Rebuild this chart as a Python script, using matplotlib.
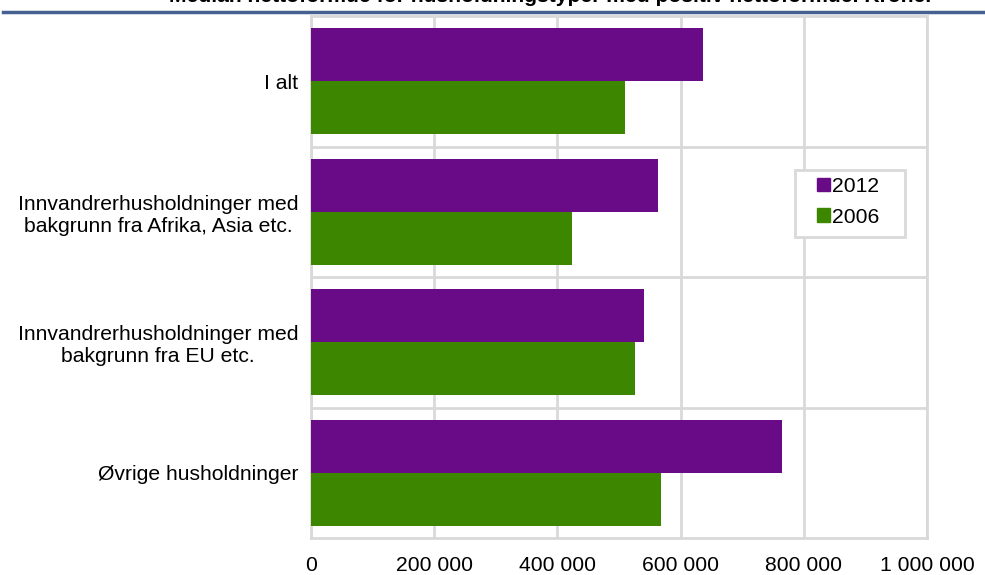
import numpy as np
from matplotlib import pyplot as plt
from matplotlib.patches import Rectangle, Patch

plt.rcParams['font.family'] = ['Liberation Sans', 'DejaVu Sans']

kategorier = ["I alt",
              "Innvandrerhusholdninger med\nbakgrunn fra Afrika, Asia etc.",
              "Innvandrerhusholdninger med\nbakgrunn fra EU etc.",
              "Øvrige husholdninger"]
v2012 = [636000, 563000, 541000, 765000]
v2006 = [510000, 424000, 526000, 568000]
xticks = [0, 200000, 400000, 600000, 800000, 1000000]
xtick_labels = ["0", "200 000", "400 000", "600 000", "800 000", "1 000 000"]

lilla = "#690a87"
gronn = "#3d8600"
grid = "#d9d9d9"
fs = 15.2
W, H = 985, 575

fig = plt.figure(figsize=(9.85, 5.75), dpi=100)
ax = fig.add_axes([311/W, 1 - 538/H, (927-311)/W, (538-16)/H])

y = np.arange(len(kategorier))
h = 0.405
ax.barh(y - h/2, v2012, height=h, color=lilla, label="2012", zorder=3)
ax.barh(y + h/2, v2006, height=h, color=gronn, label="2006", zorder=3)

ax.set_xlim(0, 1000000)
ax.set_ylim(len(kategorier) - 0.5, -0.5)
ax.set_xticks(xticks)
ax.set_xticklabels(xtick_labels, fontsize=fs)
ax.set_yticks(y)
ax.set_yticklabels(kategorier, fontsize=fs, multialignment='center', linespacing=1.2)
ax.tick_params(length=0)
ax.tick_params(axis='y', pad=9)
ax.tick_params(axis='x', pad=13)

for xv in xticks:
    ax.axvline(xv, color=grid, lw=2, zorder=1)
for yv in np.arange(0.5, len(kategorier) - 1, 1.0):
    ax.axhline(yv, color=grid, lw=2, zorder=1)
for s in ax.spines.values():
    s.set_color(grid)
    s.set_linewidth(2)

# legendeboks
boks = Rectangle((795/W, 1 - 237/H), 110/W, 67/H, transform=fig.transFigure,
                 facecolor="white", edgecolor=grid, lw=2, zorder=4)
fig.add_artist(boks)
handles = [Patch(color=lilla, label="2012"), Patch(color=gronn, label="2006")]
leg = fig.legend(handles=handles, loc='upper left', bbox_to_anchor=(817/W, 1 - 177/H),
                 fontsize=fs, frameon=False, handlelength=0.6, handleheight=0.6,
                 handletextpad=0.12, borderpad=0, labelspacing=0.55, borderaxespad=0)
leg.set_zorder(5)

# blå linje under (avkuttet) tittel
fig.add_artist(plt.Line2D([3/W, 1], [1 - 12/H, 1 - 12/H], color="#44618f", lw=2.5))
fig.text(0.56, 1 - 2/H, "Median nettoformue for husholdningstyper med positiv nettoformue. Kroner",
         ha='center', va='baseline', fontsize=fs, fontweight='bold')

fig.savefig("out.png", dpi=100)
